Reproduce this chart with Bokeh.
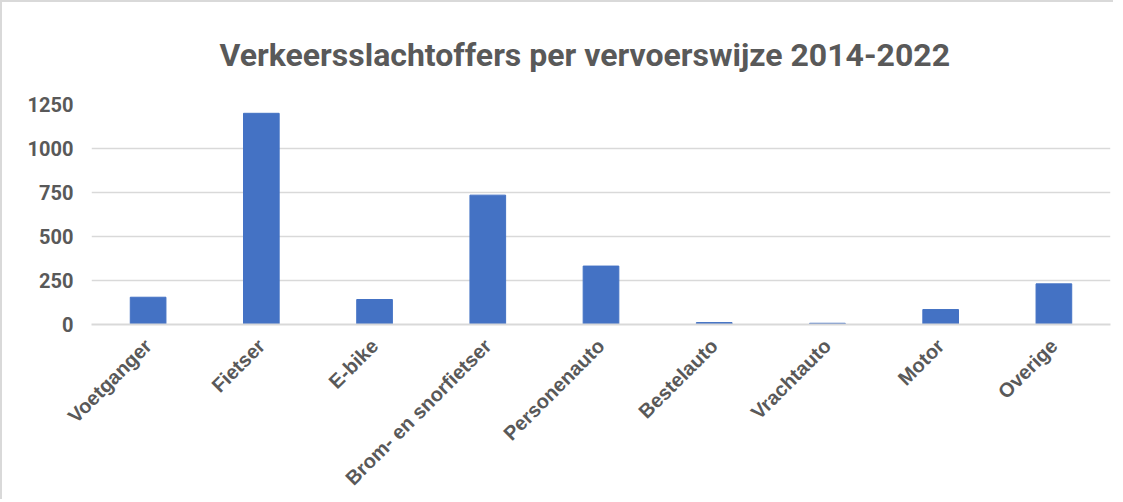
import math
from bokeh.plotting import figure
from bokeh.models import Range1d, FixedTicker, ColumnDataSource
from bokeh.embed import file_html
from bokeh.resources import INLINE

categories = ["Voetganger", "Fietser", "E-bike", "Brom- en snorfietser", "Personenauto",
              "Bestelauto", "Vrachtauto", "Motor", "Overige"]
values = [155, 1200, 142, 735, 332, 11, 7, 85, 231]
y_ticks = [0, 250, 500, 750, 1000, 1250]
title_text = "Verkeersslachtoffers per vervoerswijze 2014-2022"

source = ColumnDataSource(data=dict(cat=categories, val=values))

p = figure(x_range=categories, y_range=Range1d(0, 1250),
           width=1113, height=499, output_backend="svg", toolbar_location=None,
           min_border_left=89, min_border_right=5, min_border_top=102, min_border_bottom=177,
           styles={"border-top": "2px solid #d9d9d9", "border-left": "2px solid #d9d9d9"})

p.vbar(x="cat", top="val", width=0.315, source=source, fill_color="#4472C4", line_color="#4472C4")

p.title.text = title_text
p.title.align = "left"
p.title.offset = 128
p.title.text_font = "Roboto"
p.title.text_font_style = "bold"
p.title.text_font_size = "32px"
p.title.text_color = "#595959"
p.title.standoff = 62

p.outline_line_color = None
p.background_fill_color = "white"
p.border_fill_color = "white"

p.xgrid.grid_line_color = None
p.ygrid.grid_line_color = "#d9d9d9"
p.ygrid.grid_line_width = 1.5

p.yaxis.ticker = FixedTicker(ticks=y_ticks)
p.yaxis.axis_line_color = None
p.yaxis.major_tick_line_color = None
p.yaxis.minor_tick_line_color = None
p.yaxis.major_label_standoff = 12
p.yaxis.major_label_text_font = "Roboto"
p.yaxis.major_label_text_font_style = "bold"
p.yaxis.major_label_text_font_size = "20px"
p.yaxis.major_label_text_color = "#595959"

p.xaxis.axis_line_color = "#d9d9d9"
p.xaxis.axis_line_width = 2
p.xaxis.major_tick_line_color = None
p.xaxis.minor_tick_line_color = None
p.xaxis.major_label_orientation = math.pi / 4
p.xaxis.major_label_standoff = 12
p.xaxis.major_label_text_font = "Liberation Sans"
p.xaxis.major_label_text_font_style = "bold"
p.xaxis.major_label_text_font_size = "20px"
p.xaxis.major_label_text_color = "#595959"

open("out.html", "w").write(file_html(p, INLINE))
